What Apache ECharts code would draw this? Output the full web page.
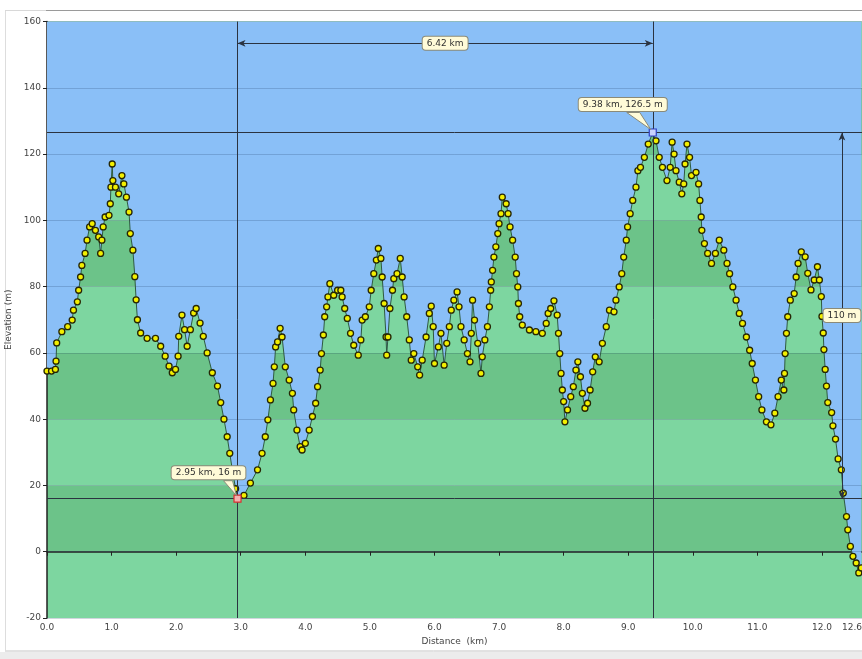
<!DOCTYPE html>
<html>
<head>
<meta charset="utf-8">
<script src="https://cdn.jsdelivr.net/npm/echarts@6.0.0/dist/echarts.min.js"></script>
<style>
html,body{margin:0;padding:0;background:#fff;}
#chart{width:862px;height:659px;}
</style>
</head>
<body>
<div id="chart"></div>
<script>
// ---- data ----
const distKm = [0.00,0.07,0.13,0.14,0.15,0.23,0.32,0.39,0.41,0.47,0.49,0.52,0.54,0.59,0.62,0.66,0.70,0.75,0.80,0.83,0.85,0.87,0.90,0.96,0.98,0.99,1.01,1.02,1.06,1.11,1.16,1.19,1.23,1.27,1.29,1.33,1.36,1.38,1.40,1.45,1.55,1.68,1.76,1.83,1.89,1.94,1.99,2.03,2.04,2.09,2.13,2.17,2.22,2.27,2.31,2.37,2.42,2.48,2.56,2.64,2.69,2.74,2.79,2.83,2.87,2.92,2.95,3.05,3.15,3.26,3.33,3.38,3.42,3.46,3.50,3.52,3.54,3.57,3.61,3.64,3.69,3.75,3.80,3.82,3.87,3.92,3.95,4.00,4.06,4.11,4.16,4.19,4.23,4.25,4.28,4.30,4.33,4.35,4.38,4.44,4.50,4.55,4.57,4.61,4.65,4.70,4.75,4.82,4.86,4.88,4.93,4.99,5.02,5.06,5.10,5.13,5.17,5.19,5.22,5.25,5.26,5.28,5.31,5.35,5.37,5.42,5.47,5.50,5.53,5.57,5.61,5.64,5.68,5.74,5.77,5.81,5.87,5.92,5.95,5.98,6.00,6.06,6.10,6.15,6.19,6.23,6.26,6.30,6.35,6.38,6.41,6.46,6.51,6.55,6.57,6.59,6.62,6.67,6.72,6.74,6.78,6.82,6.85,6.87,6.88,6.90,6.92,6.95,6.98,7.00,7.03,7.05,7.11,7.14,7.17,7.21,7.25,7.27,7.29,7.30,7.32,7.36,7.47,7.57,7.67,7.73,7.76,7.80,7.85,7.90,7.92,7.94,7.96,7.98,8.00,8.02,8.06,8.11,8.15,8.19,8.22,8.26,8.29,8.33,8.37,8.41,8.45,8.49,8.55,8.60,8.66,8.71,8.78,8.81,8.86,8.90,8.93,8.97,8.99,9.03,9.07,9.12,9.15,9.19,9.25,9.31,9.38,9.43,9.48,9.53,9.60,9.65,9.68,9.71,9.74,9.79,9.83,9.86,9.88,9.91,9.95,9.98,10.05,10.09,10.11,10.13,10.14,10.18,10.23,10.29,10.35,10.41,10.48,10.53,10.57,10.62,10.67,10.72,10.77,10.83,10.88,10.92,10.97,11.02,11.07,11.14,11.21,11.27,11.32,11.37,11.41,11.42,11.43,11.45,11.47,11.51,11.57,11.60,11.63,11.68,11.74,11.78,11.83,11.88,11.93,11.96,11.99,12.00,12.02,12.03,12.05,12.07,12.09,12.15,12.17,12.21,12.25,12.30,12.33,12.38,12.40,12.44,12.48,12.53,12.57,12.61];
const elevM = [54.5,54.5,55,57.5,63,66.4,67.9,69.9,72.9,75.4,78.9,82.9,86.4,90,94,98,99,97,95,90,94,98,101,101.5,105,110,117,112,110,108,113.5,111,107,102.5,96,91,83,76,70,66,64.4,64.4,62,59,56,54,55,59,65,71.4,67,62,67,72,73.4,69,65,60,54,50,45,40,34.7,29.7,24.7,19,16,17,20.7,24.7,29.7,34.7,39.8,45.8,50.8,55.8,61.8,63.3,67.4,64.8,55.8,51.8,47.8,42.8,36.7,31.7,30.7,32.7,36.7,40.8,44.8,49.8,54.8,59.8,65.4,70.9,73.9,76.9,80.9,77.4,78.9,78.9,76.9,73.4,70.4,65.9,62.3,59.3,63.9,69.9,70.9,73.9,78.9,83.9,88,91.5,88.5,82.9,74.9,64.8,59.3,64.8,73.4,78.9,82.4,83.9,88.5,82.9,76.9,70.9,63.9,57.8,59.8,55.8,53.3,57.8,64.8,71.9,74.1,67.9,56.8,61.8,65.9,56.3,62.9,67.9,72.9,75.9,78.4,73.9,67.9,63.9,59.8,57.3,65.9,75.9,69.9,62.9,53.8,58.8,63.9,67.9,73.9,78.9,81.4,84.9,88.9,92,96,99,102,107,105,102,98,94,88.9,83.9,79.9,74.9,70.9,68.4,66.9,66.4,65.9,68.9,71.9,73.4,75.7,71.4,65.9,59.8,53.8,48.8,45.3,39.2,42.8,46.8,49.8,54.8,57.3,52.8,47.8,43.3,44.8,48.8,54.3,58.8,57.3,62.9,67.9,72.9,72.4,75.9,79.9,83.9,88.9,94,98,102,106,110,115,116,119,123,126.5,124,119,116,112,116,123.6,120,115,111.5,108,111,117,123,119,113.5,114.5,111,106,101,97,93,90,87,90,94,91,87,83.9,79.9,75.9,71.9,68.9,64.8,60.8,56.8,51.8,46.8,42.8,39.2,38.3,41.8,46.8,51.8,48.8,53.8,59.8,65.9,70.9,75.9,77.9,82.9,87,90.5,89,84,79,82,86,82,77,71,66,61,55,50,45,42,38,34,28,24.7,17.7,10.6,6.6,1.6,-1.4,-3.4,-6.4,-4.9];

// selected points (low / high) and measured spans
const selDist = [2.95, 9.38];
const selElev = [16, 126.5];
const selLabels = ['2.95 km, 16 m', '9.38 km, 126.5 m'];
const spanDistLabel = '6.42 km';
const spanElevLabel = '110 m';

// axis settings
const xMin = 0, xMax = 12.62, xStep = 1;
const yMin = -20, yMax = 160, yStep = 20;

// ---- annotation geometry (placement, not data) ----
const hArrowElev = 153.4;   // height of the distance arrow
const vArrowDist = 12.31;   // x of the elevation arrow

const pts = distKm.map((d, i) => [d, elevM[i]]);

const callouts = [
  { x: selDist[0], y: selElev[0], text: selLabels[0], dx: -29, dy: -26, tail: [[-14,-18],[-5,-18],[-1,-3]] },
  { x: selDist[1], y: selElev[1], text: selLabels[1], dx: -30, dy: -28, tail: [[-26,-20],[-13,-20],[-2,-3]] },
  { x: (selDist[0] + selDist[1]) / 2, y: hArrowElev, text: spanDistLabel, dx: 0, dy: 0, tail: null },
  { x: vArrowDist, y: (selElev[0] + selElev[1]) / 2, text: spanElevLabel, dx: 0, dy: 0, tail: null }
];

const FONT = '"DejaVu Sans", Verdana, sans-serif';
const chart = echarts.init(document.getElementById('chart'), null, { renderer: 'canvas' });

const option = {
  animation: false,
  backgroundColor: '#ffffff',
  graphic: [
    { type: 'rect', shape: { x: 0, y: 652, width: 862, height: 7 }, style: { fill: '#ececec' }, z: -10 },
    { type: 'line', shape: { x1: 5, y1: 651, x2: 862, y2: 651 }, style: { stroke: '#c4c4c4', lineWidth: 1 }, z: -10 },
    { type: 'line', shape: { x1: 5.5, y1: 10, x2: 5.5, y2: 651 }, style: { stroke: '#dddddd', lineWidth: 1 }, z: -10 },
    { type: 'line', shape: { x1: 5, y1: 10.5, x2: 46, y2: 10.5 }, style: { stroke: '#d8d8d8', lineWidth: 1 }, z: -10 },
    { type: 'line', shape: { x1: 46, y1: 10.5, x2: 862, y2: 10.5 }, style: { stroke: '#9a9a9a', lineWidth: 1 }, z: -10 }
  ],
  grid: { left: 47, right: 0, top: 21.5, bottom: 41, containLabel: false, outerBoundsMode: 'none' },
  xAxis: {
    type: 'value', min: xMin, max: xMax, interval: xStep,
    name: 'Distance  (km)', nameLocation: 'middle', nameGap: 16,
    nameTextStyle: { fontFamily: FONT, fontSize: 9, color: '#444' },
    axisLine: { show: true, lineStyle: { color: '#222', width: 1.5 } },
    axisTick: { show: true, length: 4, lineStyle: { color: '#222' } },
    axisLabel: { fontFamily: FONT, fontSize: 9, color: '#444', margin: 5,
      formatter: v => v.toFixed(1), showMaxLabel: true, alignMaxLabel: 'right' },
    splitLine: { show: false }
  },
  yAxis: [
    {
      type: 'value', min: yMin, max: yMax, interval: yStep,
      name: 'Elevation (m)', nameLocation: 'middle', nameGap: 29, nameRotate: 90,
      nameTextStyle: { fontFamily: FONT, fontSize: 9, color: '#444' },
      axisLine: { show: true, lineStyle: { color: '#222', width: 1.5 } },
      axisTick: { show: true, length: 4, lineStyle: { color: '#222' } },
      axisLabel: { fontFamily: FONT, fontSize: 9, color: '#444', margin: 6 },
      splitLine: { show: false },
      splitArea: { show: true, areaStyle: { color: ['#7dd6a0', '#6cc389'] } }
    },
    {
      type: 'value', min: yMin, max: yMax, interval: yStep, position: 'left', z: 3,
      axisLine: { show: false }, axisTick: { show: false }, axisLabel: { show: false },
      splitLine: { show: true, lineStyle: { color: 'rgba(20,50,90,0.2)', width: 1 } }
    }
  ],
  series: [
    {
      type: 'line', data: pts, z: 2, yAxisIndex: 0,
      symbol: 'none', silent: true,
      lineStyle: { width: 0 },
      areaStyle: { origin: 'end', color: '#8abff7', opacity: 1 }
    },
    {
      type: 'line', data: pts, z: 4, yAxisIndex: 0,
      symbol: 'circle', symbolSize: 6, showAllSymbol: true,
      lineStyle: { color: '#2f5a40', width: 1 },
      itemStyle: { color: '#f3ef00', borderColor: '#262605', borderWidth: 1.3 },
      markLine: {
        silent: true, symbol: 'none', label: { show: false },
        lineStyle: { color: '#2b3340', width: 1, type: 'solid' },
        data: [
          { xAxis: selDist[0] }, { xAxis: selDist[1] },
          { yAxis: selElev[0] }, { yAxis: selElev[1] },
          [ { coord: [selDist[0], hArrowElev], symbol: 'arrow', symbolSize: [5, 8] },
            { coord: [selDist[1], hArrowElev], symbol: 'arrow', symbolSize: [5, 8] } ],
          [ { coord: [vArrowDist, selElev[0]], symbol: 'arrow', symbolSize: [5, 8] },
            { coord: [vArrowDist, selElev[1]], symbol: 'arrow', symbolSize: [5, 8] } ]
        ]
      },
      markPoint: {
        silent: true, symbol: 'rect', symbolSize: 7, label: { show: false },
        data: [
          { coord: [selDist[0], selElev[0]], itemStyle: { color: '#f4b0b0', borderColor: '#d83030', borderWidth: 1.2 } },
          { coord: [selDist[1], selElev[1]], itemStyle: { color: '#c8d2ff', borderColor: '#3040c8', borderWidth: 1.2 } }
        ]
      }
    },
    {
      type: 'custom', z: 10, silent: true, coordinateSystem: 'cartesian2d', yAxisIndex: 0,
      data: callouts.map(c => [c.x, c.y]),
      renderItem: function (params, api) {
        const c = callouts[params.dataIndex];
        const p = api.coord([api.value(0), api.value(1)]);
        const children = [];
        if (c.tail) {
          children.push({
            type: 'polygon',
            shape: { points: c.tail.map(t => [p[0] + t[0], p[1] + t[1]]) },
            style: { fill: '#fffbd8', stroke: '#8a8a78', lineWidth: 1 }
          });
        }
        children.push({
          type: 'text', x: p[0] + c.dx, y: p[1] + c.dy,
          style: {
            text: c.text, fill: '#303030', font: '9px ' + FONT,
            align: 'center', verticalAlign: 'middle',
            backgroundColor: '#fffbd8', borderColor: '#8a8a78', borderWidth: 1,
            borderRadius: 3, padding: [2, 4, 2, 4]
          }
        });
        return { type: 'group', children: children };
      }
    }
  ]
};
chart.setOption(option);
</script>
</body>
</html>
